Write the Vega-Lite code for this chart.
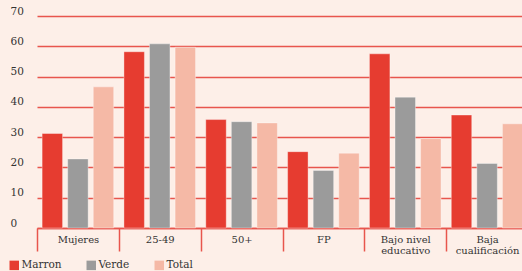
{
  "$schema": "https://vega.github.io/schema/vega-lite/v6.json",
  "width": 515,
  "height": 212,
  "autosize": {"type": "none"},
  "padding": {"left": 7, "top": 16, "right": 0, "bottom": 43},
  "background": "#fdefe8",
  "config": {
    "view": {"stroke": null},
    "font": "DejaVu Serif"
  },
  "data": {
    "values": [
      {"cat": "Mujeres", "serie": "Marron", "v": 31.2},
      {"cat": "Mujeres", "serie": "Verde", "v": 22.8},
      {"cat": "Mujeres", "serie": "Total", "v": 46.6},
      {"cat": "25-49", "serie": "Marron", "v": 58.2},
      {"cat": "25-49", "serie": "Verde", "v": 60.8},
      {"cat": "25-49", "serie": "Total", "v": 59.7},
      {"cat": "50+", "serie": "Marron", "v": 35.8},
      {"cat": "50+", "serie": "Verde", "v": 35.1},
      {"cat": "50+", "serie": "Total", "v": 34.7},
      {"cat": "FP", "serie": "Marron", "v": 25.2},
      {"cat": "FP", "serie": "Verde", "v": 19.0},
      {"cat": "FP", "serie": "Total", "v": 24.7},
      {"cat": "Bajo nivel educativo", "serie": "Marron", "v": 57.5},
      {"cat": "Bajo nivel educativo", "serie": "Verde", "v": 43.2},
      {"cat": "Bajo nivel educativo", "serie": "Total", "v": 29.5},
      {"cat": "Baja cualificación", "serie": "Marron", "v": 37.3},
      {"cat": "Baja cualificación", "serie": "Verde", "v": 21.3},
      {"cat": "Baja cualificación", "serie": "Total", "v": 34.4}
    ]
  },
  "mark": {"type": "bar", "stroke": "#ffffff", "strokeOpacity": 0.35, "strokeWidth": 1, "clip": false},
  "encoding": {
    "x": {
      "field": "cat",
      "type": "nominal",
      "sort": null,
      "scale": {"range": [30, 521], "paddingInner": 0, "paddingOuter": 0},
      "axis": {
        "title": null,
        "tickBand": "extent",
        "tickSize": 23,
        "tickColor": "#e8554d",
        "tickWidth": 1.5,
        "domainColor": "#e8554d",
        "domainWidth": 1.5,
        "labelAngle": 0,
        "labelFont": "DejaVu Serif",
        "labelFontSize": 10,
        "labelColor": "#333333",
        "labelBaseline": "top",
        "labelPadding": -16.5,
        "labelLineHeight": 11,
        "labelExpr": "datum.value == 'Bajo nivel educativo' ? ['Bajo nivel', 'educativo'] : datum.value == 'Baja cualificación' ? ['Baja', 'cualificación'] : datum.label"
      }
    },
    "xOffset": {
      "field": "serie",
      "type": "nominal",
      "sort": ["Marron", "Verde", "Total"],
      "scale": {"paddingInner": 0.2, "paddingOuter": 0.2}
    },
    "y": {
      "field": "v",
      "type": "quantitative",
      "scale": {"domain": [0, 70]},
      "axis": {
        "title": null,
        "values": [0, 10, 20, 30, 40, 50, 60, 70],
        "domain": false,
        "ticks": false,
        "gridColor": "#e8554d",
        "gridWidth": 1.5,
        "labelAlign": "left",
        "labelPadding": -3,
        "labelBaseline": "alphabetic",
        "labelOffset": -2,
        "labelFont": "DejaVu Serif",
        "labelFontSize": 10.5,
        "labelColor": "#333333"
      }
    },
    "color": {
      "field": "serie",
      "type": "nominal",
      "sort": ["Marron", "Verde", "Total"],
      "scale": {"domain": ["Marron", "Verde", "Total"], "range": ["#e63c30", "#9b9b9b", "#f5b9a6"]},
      "legend": {
        "title": null,
        "orient": "none",
        "direction": "horizontal",
        "legendX": 2,
        "legendY": 244,
        "symbolType": "square",
        "symbolSize": 90,
        "symbolStrokeWidth": 0,
        "symbolOpacity": 1,
        "labelFont": "DejaVu Serif",
        "labelFontSize": 10.5,
        "labelColor": "#333333",
        "labelOffset": 2,
        "columnPadding": 24
      }
    }
  }
}
